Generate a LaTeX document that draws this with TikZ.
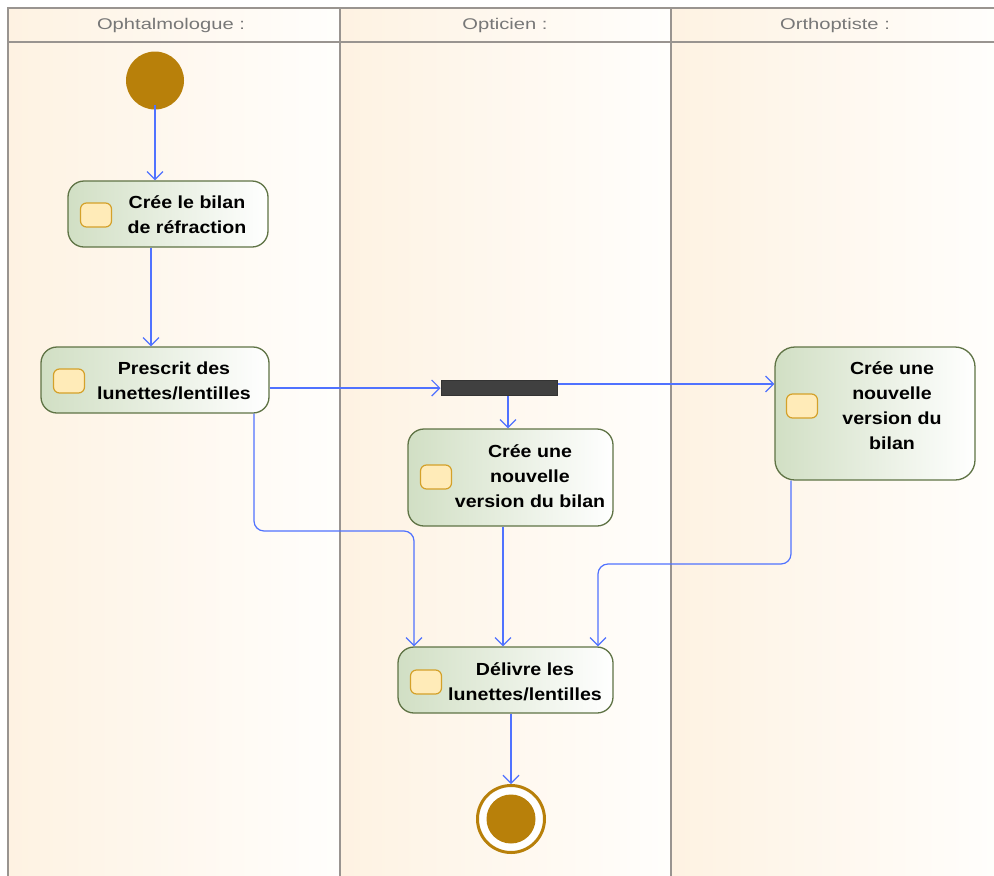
\documentclass[tikz,border=0pt]{standalone}
\usepackage{fontspec}
\setmainfont{Liberation Sans}
\newfontfamily\hdrfont[FakeStretch=1.3]{Liberation Sans}
\newfontfamily\actfont[FakeStretch=1.12]{Liberation Sans}
\usetikzlibrary{arrows.meta}
\definecolor{framegray}{HTML}{999490}
\definecolor{lanepeach}{HTML}{FEF2E2}
\definecolor{lanemid}{HTML}{FEF8F0}
\definecolor{laneright}{HTML}{FFFEFC}
\definecolor{actgreen}{HTML}{D1DFC4}
\definecolor{actborder}{HTML}{5F7345}
\definecolor{iconfill}{HTML}{FFEBB8}
\definecolor{icongold}{HTML}{D4A12A}
\definecolor{nodegold}{HTML}{B8800A}
\definecolor{flowblue}{HTML}{5072FF}
\definecolor{hdrtext}{HTML}{777777}
\tikzset{
  lane/.style={draw=framegray, line width=1.3pt, left color=lanepeach, middle color=lanemid, right color=laneright},
  hdr/.style={font=\hdrfont\fontsize{15.5}{18}\selectfont, text=hdrtext, inner sep=0},
  act/.style={draw=actborder, line width=1.3pt, rounded corners=16pt, left color=actgreen, right color=white, inner sep=0},
  icon/.style={draw=icongold, line width=1.2pt, fill=iconfill, rounded corners=6pt, minimum width=31pt, minimum height=24pt, inner sep=0},
  lbl/.style={font=\actfont\bfseries\fontsize{17.5}{25}\selectfont, align=center, text=black, inner sep=0},
  flow/.style={draw=flowblue, line width=1.2pt, -{Straight Barb[length=8pt,width=16pt]}, rounded corners=10pt},
}
\begin{document}
\begin{tikzpicture}[x=1pt,y=-1pt]
\useasboundingbox (0,0) rectangle (994,876);
% lanes
\draw[lane] (8,42) rectangle (340,880);
\draw[lane] (340,42) rectangle (671,880);
\draw[lane] (671,42) rectangle (1000,880);
\draw[lane] (8,8) rectangle (340,42);
\draw[lane] (340,8) rectangle (671,42);
\draw[lane] (671,8) rectangle (1000,42);
\node[hdr] (h1) at (171,25) {Ophtalmologue :};
\node[hdr] (h2) at (505,25) {Opticien :};
\node[hdr] (h3) at (835,25) {Orthoptiste :};
% initial
\node[circle, fill=nodegold, minimum size=58pt, inner sep=0] (init) at (155,80.5) {};
% actions
\node[act, minimum width=200pt, minimum height=66pt] (a1) at (168,214) {};
\node[icon] (i1) at (96,215) {};
\node[lbl] (t1) at (187,215) {Crée le bilan\\de réfraction};

\node[act, minimum width=228pt, minimum height=66pt] (a2) at (155,380) {};
\node[icon] (i2) at (69,381) {};
\node[lbl] (t2) at (174,380.5) {Prescrit des\\lunettes/lentilles};

\node[draw=black!80, fill=black!75, line width=1pt, minimum width=116pt, minimum height=15pt, inner sep=0] (fork) at (499,388) {};

\node[act, minimum width=205pt, minimum height=97pt] (a3) at (510.5,477.5) {};
\node[icon] (i3) at (436,477) {};
\node[lbl] (t3) at (530,476) {Crée une\\nouvelle\\version du bilan};

\node[act, rounded corners=20pt, minimum width=200pt, minimum height=133pt] (a4) at (875,413.5) {};
\node[icon] (i4) at (802,406) {};
\node[lbl] (t4) at (892,406) {Crée une\\nouvelle\\version du\\bilan};

\node[act, minimum width=215pt, minimum height=66pt] (a5) at (505.5,680) {};
\node[icon] (i5) at (426,682) {};
\node[lbl] (t5) at (525,681.5) {Délivre les\\lunettes/lentilles};

% final
\node[circle, draw=nodegold, line width=3pt, fill=white, minimum size=67pt, inner sep=0] (fin) at (511,819) {};
\fill[nodegold] (fin.center) circle (24.5);

% helper coordinates
\coordinate (x151) at (151,0);
\coordinate (y384) at (0,384);
\coordinate (x508) at (508,0);
\coordinate (x503) at (503,0);
\coordinate (x511) at (511,0);
\coordinate (b1) at (254,531);
\coordinate (b2) at (414,531);
\coordinate (c1) at (791,564);
\coordinate (c2) at (598,564);

% connectors
\draw[flow] ([yshift=5pt]init.south) -- (init.south |- a1.north);
\draw[flow] (x151 |- a1.south) -- (x151 |- a2.north);
\draw[flow] (a2.east |- fork.west) -- (fork.west);
\draw[flow] (fork.east |- y384) -- (a4.west |- y384);
\draw[flow] (x508 |- fork.south) -- (x508 |- a3.north);
\draw[flow] (b1 |- a2.south) -- (b1) -- (b2) -- (b2 |- a5.north);
\draw[flow] (x503 |- a3.south) -- (x503 |- a5.north);
\draw[flow] (c1 |- a4.south) -- (c1) -- (c2) -- (c2 |- a5.north);
\draw[flow] (x511 |- a5.south) -- (fin.north);
\end{tikzpicture}
\end{document}
